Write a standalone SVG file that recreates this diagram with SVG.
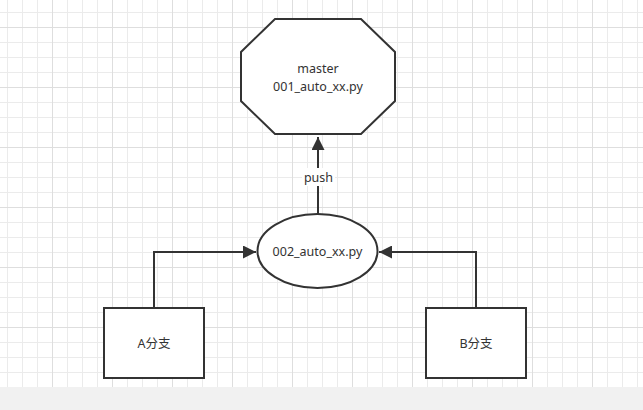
<svg xmlns="http://www.w3.org/2000/svg" width="643" height="410" viewBox="0 0 643 410">
<defs>
<pattern id="minor" x="7" y="12" width="15" height="15" patternUnits="userSpaceOnUse">
<path d="M0 0.5H15M0.5 0V15" fill="none" stroke="#ebebeb" stroke-width="1"/>
</pattern>
<pattern id="major" x="52" y="27" width="60" height="60" patternUnits="userSpaceOnUse">
<path d="M0 0.5H60M0.5 0V60" fill="none" stroke="#dedede" stroke-width="1"/>
</pattern>
<marker id="arr" viewBox="0 0 10 10" refX="10" refY="5" markerWidth="13" markerHeight="13" markerUnits="userSpaceOnUse" orient="auto">
<path d="M0 0L10 5L0 10z" fill="#333"/>
</marker>
<style>
.shape{fill:#fff;stroke:#333;stroke-width:2}
.edge{fill:none;stroke:#333;stroke-width:2}
.t{font-family:"Noto Sans","Noto Sans CJK SC",sans-serif;font-size:12.5px;fill:#333;text-anchor:middle}
</style>
</defs>
<rect width="643" height="410" fill="#fff"/>
<rect width="643" height="387" fill="url(#minor)"/>
<rect width="643" height="387" fill="url(#major)"/>
<rect y="387" width="643" height="23" fill="#f1f1f1"/>
<g id="connectors">
<path class="edge" d="M318 214V137" marker-end="url(#arr)"/>
<rect x="302" y="168" width="33" height="18" fill="#fff"/>
<text class="t" x="318.5" y="181.5">push</text>
<path class="edge" d="M154 308V252H256" marker-end="url(#arr)"/>
<path class="edge" d="M476 308V252H379" marker-end="url(#arr)"/>
</g>
<g id="master">
<polygon class="shape" points="275,19 361,19 395,52 395,101 361,134 275,134 241,101 241,52"/>
<text class="t" x="318" y="73">master</text>
<text class="t" x="318" y="91">001_auto_xx.py</text>
</g>
<g id="auto002">
<ellipse class="shape" cx="317.5" cy="251" rx="60" ry="37"/>
<text class="t" x="317.5" y="256">002_auto_xx.py</text>
</g>
<g id="branchA">
<rect class="shape" x="104" y="308" width="100" height="70"/>
<text class="t" x="154" y="348">A分支</text>
</g>
<g id="branchB">
<rect class="shape" x="426" y="308" width="100" height="70"/>
<text class="t" x="476" y="348">B分支</text>
</g>
</svg>
